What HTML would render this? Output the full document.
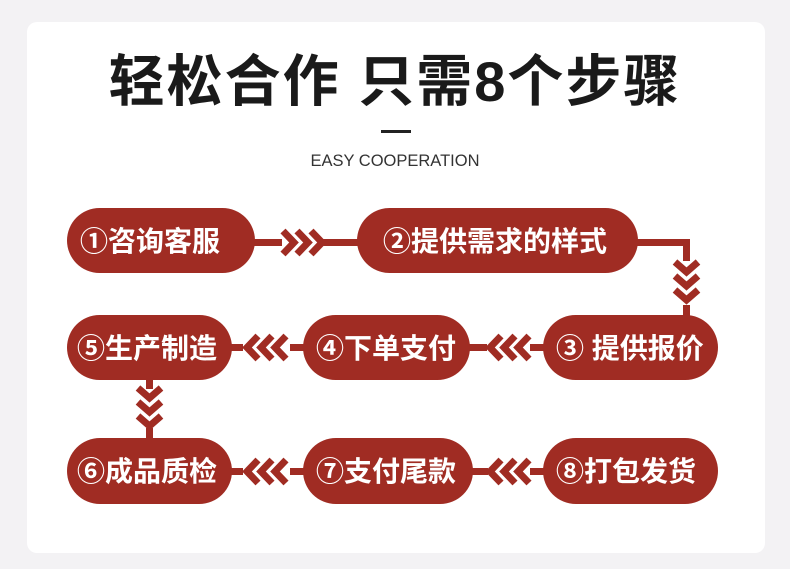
<!DOCTYPE html>
<html><head><meta charset="utf-8"><style>
html,body{margin:0;padding:0;background:#f3f2f4;}
body{width:790px;height:569px;overflow:hidden;position:relative;}
</style></head><body>
<svg width="790" height="569" xmlns="http://www.w3.org/2000/svg" style="position:absolute;left:0;top:0">
<rect x="27" y="22" width="738" height="531" rx="10" fill="#fff"/>
<text x="395" y="101" text-anchor="middle" font-family="Liberation Sans, Noto Sans CJK SC, sans-serif" font-weight="bold" font-size="56" letter-spacing="2" fill="#1a1a1a">轻松合作 只需8个步骤</text>
<rect x="381" y="130" width="30" height="3" fill="#222"/>
<text x="395" y="166" text-anchor="middle" font-family="Liberation Sans, sans-serif" font-size="16.5" fill="#333">EASY COOPERATION</text>
<g fill="#a02c23" stroke="none">
<rect x="250" y="239" width="32" height="7"/>
<rect x="318" y="239" width="42" height="7"/>
<rect x="630" y="239" width="58" height="7"/>
<rect x="683" y="239" width="7" height="22"/>
<rect x="683" y="305" width="7" height="14"/>
<rect x="146" y="375" width="7" height="14"/>
<rect x="146" y="428" width="7" height="14"/>
<rect x="225" y="344" width="18" height="7"/>
<rect x="290" y="344" width="18" height="7"/>
<rect x="465" y="344" width="22" height="7"/>
<rect x="530" y="344" width="18" height="7"/>
<rect x="225" y="468" width="18" height="7"/>
<rect x="290" y="468" width="18" height="7"/>
<rect x="470" y="468" width="18" height="7"/>
<rect x="530" y="468" width="18" height="7"/>
<rect x="67" y="208" width="188" height="65" rx="32.5"/>
<rect x="357" y="208" width="281" height="65" rx="32.5"/>
<rect x="543" y="315" width="175" height="65" rx="32.5"/>
<rect x="303" y="315" width="167" height="65" rx="32.5"/>
<rect x="67" y="315" width="165" height="65" rx="32.5"/>
<rect x="67" y="438" width="165" height="66" rx="33"/>
<rect x="303" y="438" width="170" height="66" rx="33"/>
<rect x="543" y="438" width="175" height="66" rx="33"/>
</g>
<g fill="none" stroke="#a02c23" stroke-width="7" stroke-linejoin="miter">
<polyline points="283,231 294,242.5 283,254"/>
<polyline points="297,231 308,242.5 297,254"/>
<polyline points="311,231 322,242.5 311,254"/>
<polyline points="675,262 686.5,272 698,262"/>
<polyline points="675,276 686.5,286 698,276"/>
<polyline points="675,290 686.5,300 698,290"/>
<polyline points="138,388 149.5,398 161,388"/>
<polyline points="138,402 149.5,412 161,402"/>
<polyline points="138,416 149.5,426 161,416"/>
<polyline points="258,336 247,347.5 258,359"/>
<polyline points="272,336 261,347.5 272,359"/>
<polyline points="286,336 275,347.5 286,359"/>
<polyline points="501,336 490,347.5 501,359"/>
<polyline points="515,336 504,347.5 515,359"/>
<polyline points="529,336 518,347.5 529,359"/>
<polyline points="258,460 247,471.5 258,483"/>
<polyline points="272,460 261,471.5 272,483"/>
<polyline points="286,460 275,471.5 286,483"/>
<polyline points="501,460 490,471.5 501,483"/>
<polyline points="515,460 504,471.5 515,483"/>
<polyline points="529,460 518,471.5 529,483"/>
</g>
<g fill="#fff" font-family="Liberation Sans, Noto Sans CJK SC, sans-serif" font-weight="bold" font-size="28">
<text x="80" y="251">①咨询客服</text>
<text x="383" y="251">②提供需求的样式</text>
<text x="556" y="358">③ 提供报价</text>
<text x="316" y="358">④下单支付</text>
<text x="77" y="358">⑤生产制造</text>
<text x="77" y="481">⑥成品质检</text>
<text x="316" y="481">⑦支付尾款</text>
<text x="556" y="481">⑧打包发货</text>
</g>
</svg>
</body></html>
